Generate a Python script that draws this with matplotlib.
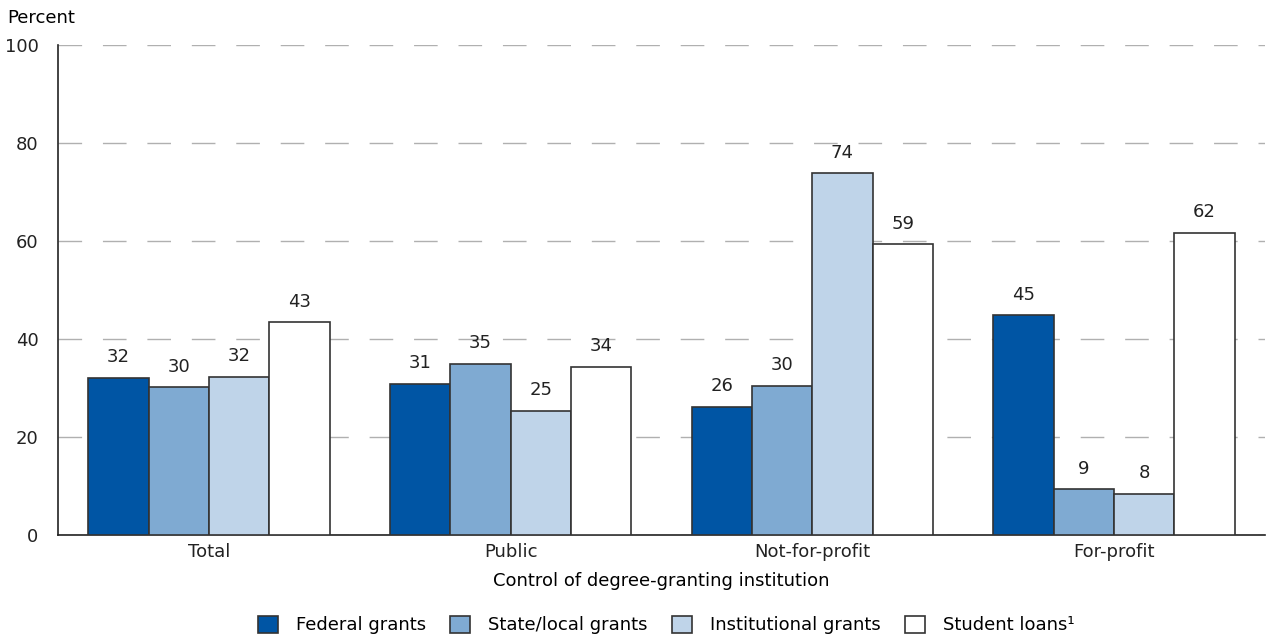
import matplotlib
matplotlib.use("Agg")
import matplotlib.pyplot as plt
import numpy as np

# data
groups = ["Total", "Public", "Not-for-profit", "For-profit"]
series = ["Federal grants", "State/local grants", "Institutional grants", "Student loans\u00b9"]
federal = [32.1, 30.9, 26.2, 44.8]
state_local = [30.1, 34.9, 30.4, 9.3]
institutional = [32.2, 25.3, 73.8, 8.4]
loans = [43.4, 34.3, 59.3, 61.7]
colors = ["#0055a4", "#7faad2", "#bfd4e9", "#ffffff"]

plt.rcParams['font.family'] = ['DejaVu Sans']
plt.rcParams['font.size'] = 13

fig = plt.figure(figsize=(12.69, 6.43), dpi=100)
ax = fig.add_axes([0.0457, 0.168, 0.951, 0.762])

x = np.arange(len(groups))
w = 0.2
values = [federal, state_local, institutional, loans]
for k, vals in enumerate(values):
    pos = x + (k - 1.5) * w
    bars = ax.bar(pos, vals, w, color=colors[k], edgecolor="#333333",
                  linewidth=1.2, label=series[k], zorder=3)
    for b, v in zip(bars, vals):
        ax.text(b.get_x() + b.get_width() / 2, v + 2.4, "%d" % round(v),
                ha="center", va="bottom", fontsize=13, color="#222222")

ax.set_xlim(-0.5, 3.5)
ax.set_ylim(0, 100)
ax.set_yticks(range(0, 101, 20))
ax.set_xticks(x)
ax.set_xticklabels(groups)
ax.tick_params(axis="both", length=0, labelsize=13, colors="#222222")
ax.tick_params(axis="y", pad=14)
ax.tick_params(axis="x", pad=6)

for s in ["top", "right"]:
    ax.spines[s].set_visible(False)
ax.spines["left"].set_color("#222222")
ax.spines["bottom"].set_color("#222222")
ax.spines["left"].set_linewidth(1.2)
ax.spines["bottom"].set_linewidth(1.2)

ax.yaxis.grid(True, color="#b0b0b0", linewidth=1, linestyle=(0, (17, 15)), zorder=0)
ax.set_axisbelow(True)

ax.set_xlabel("Control of degree-granting institution", fontsize=13, labelpad=8)
fig.text(0.006, 0.972, "Percent", fontsize=13, ha="left", va="center")

fig.legend(loc="lower center", bbox_to_anchor=(0.525, -0.012), ncol=4, frameon=False,
           fontsize=13, handlelength=1.1, handleheight=1.1, columnspacing=1.35,
           handletextpad=1.0)

fig.savefig("out.png", dpi=100)
